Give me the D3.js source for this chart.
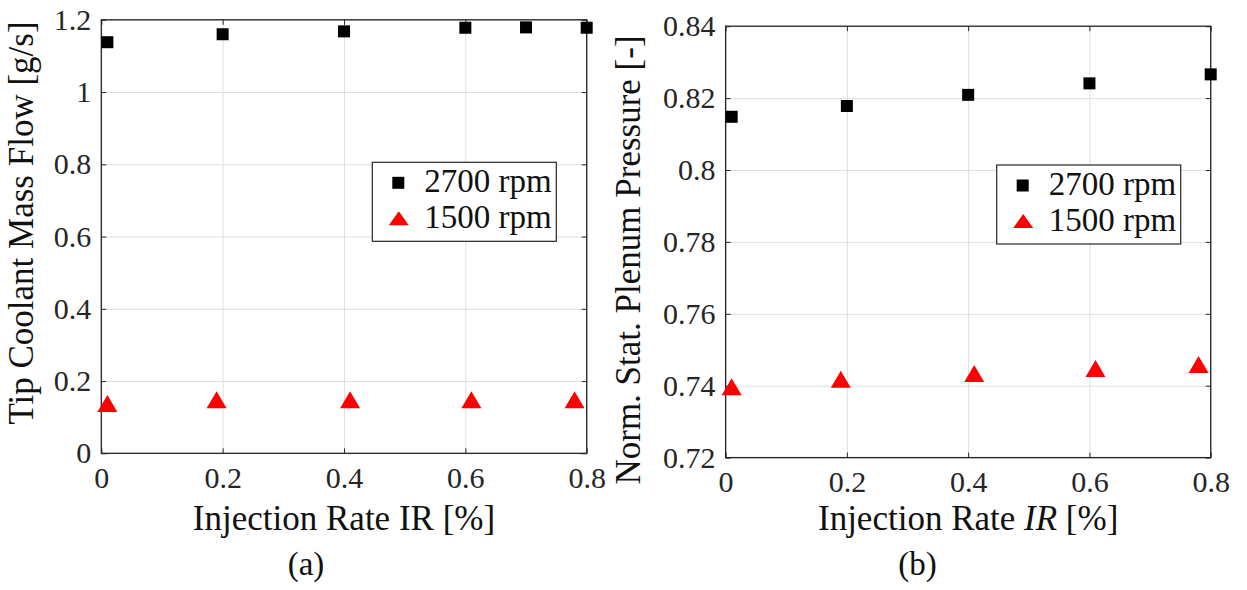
<!DOCTYPE html>
<html>
<head>
<meta charset="utf-8">
<script src="https://cdn.jsdelivr.net/npm/d3@7"></script>
<style>
  body { margin: 0; background: #fff; }
</style>
</head>
<body>
<svg id="chart" width="1247" height="590"></svg>
<script>
// x axis ticks, shared by both panels
var irTicks = [0, 0.2, 0.4, 0.6, 0.8];

// (a) tip coolant mass flow [g/s]
var flowTicks = [0, 0.2, 0.4, 0.6, 0.8, 1, 1.2];
var flow2700IR = [0.01, 0.2, 0.4, 0.6, 0.7, 0.8];
var flow2700 = [1.138, 1.160, 1.168, 1.178, 1.179, 1.178];
var flow1500IR = [0.01, 0.19, 0.41, 0.61, 0.78];
var flow1500 = [0.138, 0.148, 0.148, 0.148, 0.148];

// (b) normalised static plenum pressure [-]
var presTicks = [0.72, 0.74, 0.76, 0.78, 0.8, 0.82, 0.84];
var pres2700IR = [0.01, 0.2, 0.4, 0.6, 0.8];
var pres2700 = [0.8148, 0.8178, 0.8209, 0.8241, 0.8266];
var pres1500IR = [0.01, 0.19, 0.41, 0.61, 0.78];
var pres1500 = [0.7397, 0.7418, 0.7434, 0.7448, 0.7459];

var seriesNames = ["2700 rpm", "1500 rpm"];

var FONT = "Liberation Serif";
var svg = d3.select("#chart").attr("font-family", FONT);
var frameColor = "#262626";
var gridColor = "#dedede";

function trianglePath(w, h) {
    return "M0," + (-h / 2) + "L" + (w / 2) + "," + (h / 2) + "L" + (-w / 2) + "," + (h / 2) + "Z";
}
function fmt(d) { return String(+d.toFixed(2)); }

function drawPanel(p) {
    var x = d3.scaleLinear().domain([0, 0.8]).range([p.left, p.right]);
    var y = d3.scaleLinear().domain(p.yDomain).range([p.bottom, p.top]);
    var w = p.right - p.left, h = p.bottom - p.top;
    var g = svg.append("g");

    // grid
    g.append("g").attr("transform", "translate(0," + p.bottom + ")")
        .call(d3.axisBottom(x).tickValues(irTicks).tickSize(-h).tickFormat(""))
        .call(function(s) { s.select(".domain").remove(); s.selectAll("line").attr("stroke", gridColor); });
    g.append("g").attr("transform", "translate(" + p.left + ",0)")
        .call(d3.axisLeft(y).tickValues(p.yTicks).tickSize(-w).tickFormat(""))
        .call(function(s) { s.select(".domain").remove(); s.selectAll("line").attr("stroke", gridColor); });

    // axes, ticks pointing inward like matlab
    var xb = g.append("g").attr("class", "ax").attr("transform", "translate(0," + p.bottom + ")")
        .call(d3.axisBottom(x).tickValues(irTicks).tickSizeInner(-5).tickSizeOuter(0).tickPadding(13).tickFormat(fmt));
    var yl = g.append("g").attr("class", "ax").attr("transform", "translate(" + p.left + ",0)")
        .call(d3.axisLeft(y).tickValues(p.yTicks).tickSizeInner(-5).tickSizeOuter(0).tickPadding(10).tickFormat(fmt));
    g.append("g").attr("class", "ax").attr("transform", "translate(0," + p.top + ")")
        .call(d3.axisTop(x).tickValues(irTicks).tickSizeInner(-5).tickSizeOuter(0).tickFormat(""));
    g.append("g").attr("class", "ax").attr("transform", "translate(" + p.right + ",0)")
        .call(d3.axisRight(y).tickValues(p.yTicks).tickSizeInner(-5).tickSizeOuter(0).tickFormat(""));
    g.selectAll(".domain").remove();
    g.selectAll("g").attr("font-family", FONT);
    g.selectAll(".ax .tick line").attr("stroke", frameColor);
    g.selectAll(".ax .tick text").attr("font-family", FONT).attr("font-size", 30).attr("fill", "#262626");

    g.append("rect").attr("x", p.left).attr("y", p.top).attr("width", w).attr("height", h)
        .attr("fill", "none").attr("stroke", frameColor).attr("stroke-width", 1.3);

    // markers
    g.selectAll("rect.sq").data(d3.zip(p.ir2700, p.val2700)).enter().append("rect")
        .attr("class", "sq")
        .attr("x", function(d) { return x(d[0]) - 6; })
        .attr("y", function(d) { return y(d[1]) - 6; })
        .attr("width", 12).attr("height", 12).attr("fill", "#000");
    g.selectAll("path.tri").data(d3.zip(p.ir1500, p.val1500)).enter().append("path")
        .attr("class", "tri")
        .attr("d", trianglePath(20, 17))
        .attr("transform", function(d) { return "translate(" + x(d[0]) + "," + y(d[1]) + ")"; })
        .attr("fill", "#ff0000");

    // legend
    var lg = g.append("g").attr("transform", "translate(" + p.legX + "," + p.legY + ")");
    lg.append("rect").attr("width", 184).attr("height", 79)
        .attr("fill", "#fff").attr("stroke", frameColor).attr("stroke-width", 1.2);
    lg.append("rect").attr("x", 20).attr("y", 14.5).attr("width", 12).attr("height", 12).attr("fill", "#000");
    lg.append("path").attr("d", trianglePath(20, 14)).attr("transform", "translate(26.5,56)").attr("fill", "#ff0000");
    lg.selectAll("text.leg").data(seriesNames).enter().append("text")
        .attr("class", "leg")
        .attr("x", 52).attr("y", function(d, i) { return 29.5 + i * 36.5; })
        .attr("font-family", FONT).attr("font-size", 33).attr("fill", "#111")
        .text(function(d) { return d; });

    // axis labels
    var xl = svg.append("text").attr("x", (p.left + p.right) / 2).attr("y", 530)
        .attr("text-anchor", "middle").attr("font-family", FONT).attr("font-size", 35).attr("fill", "#111");
    xl.append("tspan").text("Injection Rate ");
    xl.append("tspan").attr("font-style", p.italicIR ? "italic" : "normal").text("IR");
    xl.append("tspan").text(" [%]");

    svg.append("text").attr("transform", "translate(" + p.yLabelX + "," + p.yLabelY + ") rotate(-90)")
        .attr("text-anchor", "middle").attr("font-family", FONT).attr("font-size", 35).attr("fill", "#111")
        .text(p.yLabel);

    svg.append("text").attr("x", p.capX).attr("y", 575).attr("text-anchor", "middle")
        .attr("font-family", FONT).attr("font-size", 33).attr("fill", "#111").text(p.caption);
}

drawPanel({
    left: 101.3, right: 586.7, top: 19.8, bottom: 453.3,
    yDomain: [0, 1.2], yTicks: flowTicks,
    ir2700: flow2700IR, val2700: flow2700, ir1500: flow1500IR, val1500: flow1500,
    legX: 372.3, legY: 162.3,
    yLabel: "Tip Coolant Mass Flow [g/s]", yLabelX: 33, yLabelY: 223,
    italicIR: false, capX: 306, caption: "(a)"
});
drawPanel({
    left: 725.6, right: 1210.7, top: 26.2, bottom: 457.6,
    yDomain: [0.72, 0.84], yTicks: presTicks,
    ir2700: pres2700IR, val2700: pres2700, ir1500: pres1500IR, val1500: pres1500,
    legX: 996.7, legY: 165,
    yLabel: "Norm.  Stat.  Plenum Pressure [-]", yLabelX: 640, yLabelY: 260,
    italicIR: true, capX: 917.5, caption: "(b)"
});
</script>
</body>
</html>
